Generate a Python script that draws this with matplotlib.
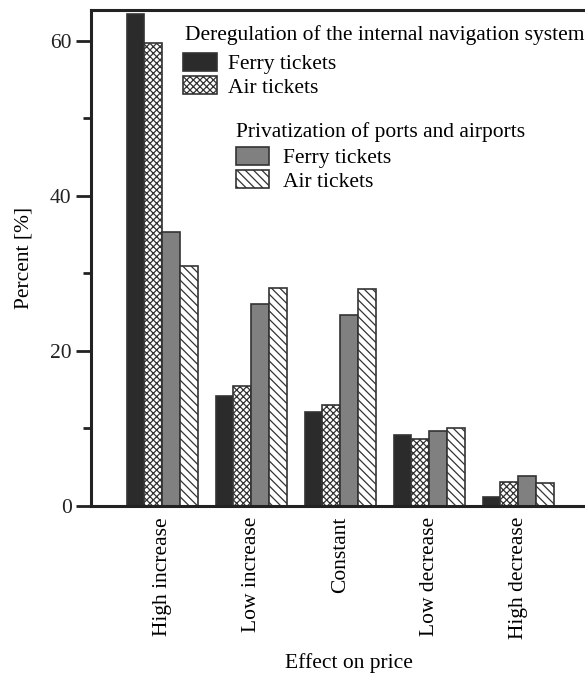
import numpy as np
import matplotlib
matplotlib.use("Agg")
import matplotlib.pyplot as plt

plt.rcParams['font.family'] = ['Liberation Serif', 'DejaVu Serif']
plt.rcParams['hatch.linewidth'] = 0.9
plt.rcParams['hatch.color'] = '#333333'

effects = ['High increase', 'Low increase', 'Constant', 'Low decrease', 'High decrease']

# deregulation of the internal navigation system
dereg_ferry = [63.5, 14.2, 12.1, 9.2, 1.1]
dereg_air = [59.7, 15.5, 13.0, 8.7, 3.1]
# privatization of ports and airports
priv_ferry = [35.4, 26.1, 24.7, 9.7, 3.9]
priv_air = [31.0, 28.1, 28.0, 10.1, 2.9]

FS = 15.5

fig = plt.figure(figsize=(5.85, 6.75), dpi=100)
ax = fig.add_axes([0.1556, 0.2504, 0.8444, 0.735])

x = np.arange(1, len(effects) + 1)
w = 0.2
edge = '#333333'
b1 = ax.bar(x - 1.5 * w, dereg_ferry, w, color='#2b2b2b', edgecolor=edge, linewidth=1.2)
b2 = ax.bar(x - 0.5 * w, dereg_air, w, color='white', edgecolor=edge, hatch='xxxxx', linewidth=1.2)
b3 = ax.bar(x + 0.5 * w, priv_ferry, w, color='#808080', edgecolor=edge, linewidth=1.2)
b4 = ax.bar(x + 1.5 * w, priv_air, w, color='white', edgecolor=edge, hatch='\\\\\\\\', linewidth=1.2)

ax.set_xlim(0.2, 5.75)
ax.set_ylim(0, 64)
ax.set_yticks([0, 20, 40, 60])
ax.set_yticks([10, 30, 50], minor=True)
ax.tick_params(axis='y', which='major', length=11, width=2, labelsize=FS, pad=3, colors='#222222')
ax.tick_params(axis='y', which='minor', length=6, width=2, colors='#222222')
ax.set_xticks(x)
ax.set_xticklabels(effects, rotation=90, fontsize=FS)
ax.tick_params(axis='x', length=0, pad=8)

ax.spines['right'].set_visible(False)
for s in ['left', 'top', 'bottom']:
    ax.spines[s].set_linewidth(2.2)
    ax.spines[s].set_color('#222222')

ax.set_ylabel('Percent [%]', fontsize=FS, labelpad=12)
fig.text(0.596, 7 / 675, 'Effect on price', fontsize=FS, ha='center', va='baseline')

# legend titles drawn as plain text so the gaps can be set directly
fig.text(185 / 585, 1 - 40 / 675, 'Deregulation of the internal navigation system',
         fontsize=FS, ha='left', va='baseline')
fig.text(236 / 585, 1 - 137 / 675, 'Privatization of ports and airports',
         fontsize=FS, ha='left', va='baseline')

leg1 = fig.legend([b1, b2], ['Ferry tickets', 'Air tickets'],
                  loc='upper left', bbox_to_anchor=(183 / 585, 1 - 53 / 675),
                  frameon=False, fontsize=FS,
                  handlelength=1.6, handleheight=0.88, labelspacing=0.1,
                  handletextpad=0.5, borderpad=0, borderaxespad=0)
leg2 = fig.legend([b3, b4], ['Ferry tickets', 'Air tickets'],
                  loc='upper left', bbox_to_anchor=(236 / 585, 1 - 147 / 675),
                  frameon=False, fontsize=FS,
                  handlelength=1.55, handleheight=0.88, labelspacing=0.1,
                  handletextpad=0.65, borderpad=0, borderaxespad=0)

fig.savefig('out.png', dpi=100)
